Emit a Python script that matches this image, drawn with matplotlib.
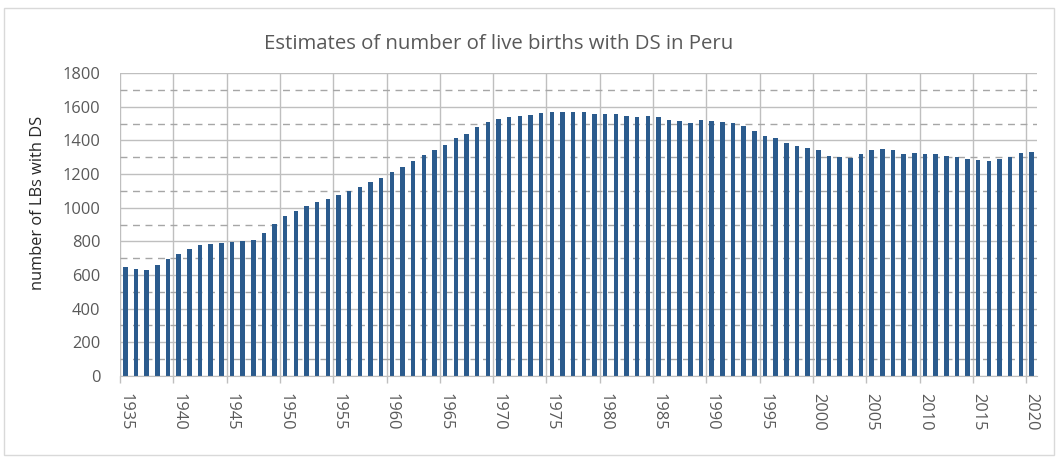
import numpy as np
import matplotlib.pyplot as plt
from matplotlib.patches import Rectangle

plt.rcParams['font.family'] = ['Open Sans', 'DejaVu Sans']

years = np.arange(1935, 2021)
births = [
    646, 636, 630, 662, 694, 725, 753, 779, 787, 791,
    797, 801, 805, 852, 904, 951, 981, 1007, 1033, 1054,
    1078, 1100, 1124, 1150, 1175, 1209, 1243, 1278, 1312, 1340,
    1374, 1411, 1437, 1479, 1508, 1524, 1538, 1544, 1550, 1560,
    1570, 1569, 1566, 1566, 1556, 1556, 1556, 1546, 1536, 1546,
    1536, 1520, 1514, 1504, 1520, 1514, 1510, 1504, 1485, 1453,
    1425, 1411, 1385, 1365, 1356, 1340, 1308, 1300, 1294, 1318,
    1344, 1350, 1344, 1318, 1324, 1318, 1318, 1308, 1300, 1288,
    1284, 1278, 1288, 1300, 1322, 1330,
]
label_years = np.arange(1935, 2021, 5)

grey = '#595959'

fig = plt.figure(figsize=(10.6, 4.61), dpi=100)
ax = fig.add_axes([0.1132, 0.1844, 0.8650, 0.6572])

# outer chart border
fig.patches.append(Rectangle((0.004, 0.013), 0.990, 0.969, transform=fig.transFigure,
                             fill=False, edgecolor='#d9d9d9', linewidth=1))

ax.bar(years, births, width=0.42, color='#2b5b8d', zorder=3)

ax.set_xlim(1934.5, 2020.5)
ax.set_ylim(0, 1800)

# y grid: solid major, dashed minor
ax.set_yticks(np.arange(0, 1801, 200))
ax.set_yticks(np.arange(100, 1800, 200), minor=True)
ax.grid(axis='y', which='major', color='#bfbfbf', linewidth=1, zorder=0)
ax.grid(axis='y', which='minor', color='#a6a6a6', linewidth=1, linestyle=(0, (5, 4)), zorder=0)

# vertical grid between categories every 5 years
for x in np.arange(1934.5, 2021, 5):
    ax.axvline(x, color='#bfbfbf', linewidth=1, zorder=1)
ax.set_xticks(np.arange(1934.5, 2021, 5), minor=True)
ax.tick_params(axis='x', which='minor', length=5, color='#bfbfbf', width=1)

ax.set_xticks(label_years)
ax.set_xticklabels([str(y) for y in label_years], rotation=270)
ax.tick_params(axis='x', which='major', length=0, pad=12, labelsize=11.8, labelcolor=grey)
ax.tick_params(axis='y', which='both', length=0, pad=14, labelsize=11.8, labelcolor=grey)

for s in ['top', 'right', 'left']:
    ax.spines[s].set_visible(False)
ax.spines['bottom'].set_color('#bfbfbf')
ax.spines['bottom'].set_zorder(4)

ax.set_ylabel('number of LBs with DS', fontsize=11.8, color='#262626')
ax.yaxis.set_label_coords(-0.0807, 0.571)
fig.text(0.47, 0.905, 'Estimates of number of live births with DS in Peru',
         ha='center', va='center', fontsize=14.7, color=grey)

fig.savefig('out.png', dpi=100)
